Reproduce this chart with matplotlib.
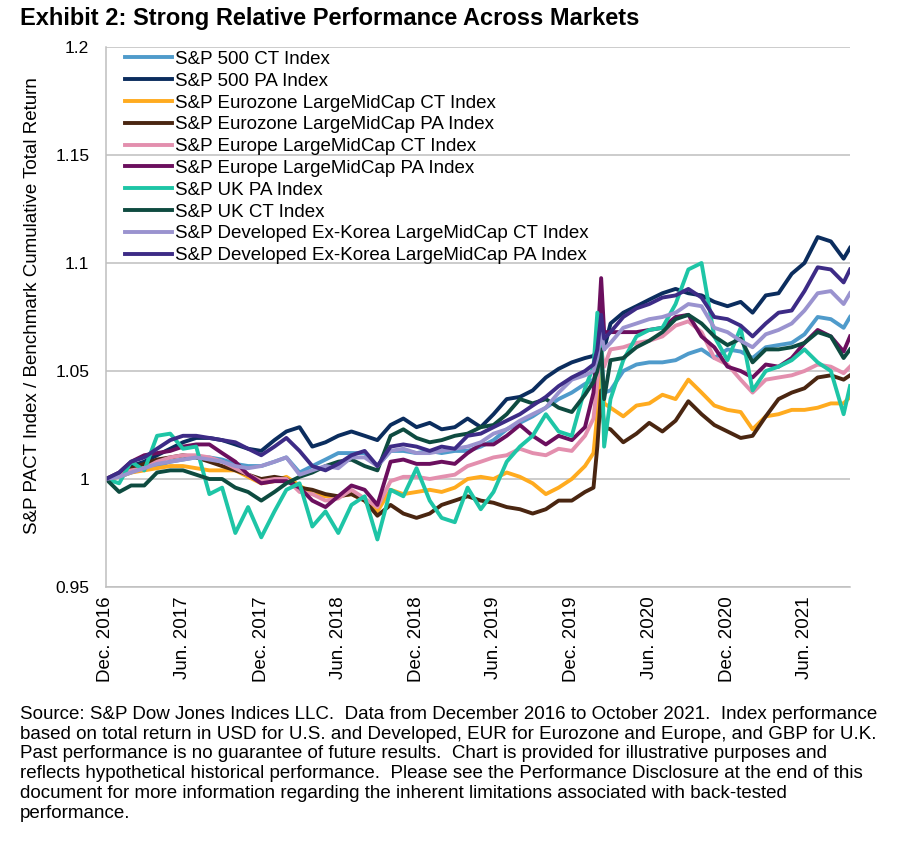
import matplotlib
matplotlib.use("Agg")
import matplotlib.pyplot as plt
import matplotlib.transforms as mtransforms
import pandas as pd

plt.rcParams['font.family'] = ['Liberation Sans', 'DejaVu Sans']

# month-end dates Dec 2016 .. Sep 2021, last reading mid Oct 2021,
# with a few extra points around the March 2020 jump
month_ends = list(pd.date_range("2016-12-31", "2021-09-30", freq="ME")) + [pd.Timestamp("2021-10-15")]
dates = (month_ends[:38] + [pd.Timestamp("2020-02-20"), month_ends[38],
         pd.Timestamp("2020-03-09"), pd.Timestamp("2020-03-16")] + month_ends[39:])

sp500_ct = [1.000, 1.001, 1.003, 1.005, 1.006, 1.008, 1.009, 1.010, 1.010, 1.009, 1.007, 1.006, 1.006,
            1.008, 1.010, 1.003, 1.006, 1.009, 1.012, 1.012, 1.012, 1.006, 1.013, 1.013, 1.012, 1.013,
            1.012, 1.013, 1.013, 1.015, 1.018, 1.023, 1.026, 1.029, 1.033, 1.037, 1.040, 1.044,
            1.046, 1.050, 1.058, 1.040,
            1.041, 1.050, 1.053, 1.054, 1.054, 1.055, 1.058, 1.060, 1.056, 1.060, 1.059, 1.056, 1.061,
            1.062, 1.063, 1.067, 1.075, 1.074, 1.070, 1.075]
sp500_pa = [1.000, 1.002, 1.006, 1.008, 1.011, 1.014, 1.017, 1.019, 1.019, 1.018, 1.016, 1.014, 1.013,
            1.018, 1.022, 1.024, 1.015, 1.017, 1.020, 1.022, 1.020, 1.018, 1.025, 1.028, 1.024, 1.026,
            1.023, 1.024, 1.028, 1.024, 1.030, 1.037, 1.038, 1.041, 1.047, 1.051, 1.054, 1.056,
            1.057, 1.060, 1.066, 1.060,
            1.072, 1.077, 1.080, 1.083, 1.086, 1.088, 1.086, 1.085, 1.082, 1.080, 1.082, 1.077, 1.085,
            1.086, 1.095, 1.100, 1.112, 1.110, 1.102, 1.107]
ez_ct = [1.000, 1.001, 1.003, 1.004, 1.005, 1.006, 1.006, 1.005, 1.004, 1.004, 1.004, 1.001, 0.998,
         0.999, 1.001, 0.997, 0.993, 0.992, 0.992, 0.993, 0.990, 0.985, 0.995, 0.993, 0.994, 0.995,
         0.994, 0.996, 1.000, 1.001, 1.000, 1.003, 1.001, 0.998, 0.993, 0.996, 1.000, 1.006,
         1.012, 1.030, 1.050, 1.035,
         1.033, 1.029, 1.034, 1.035, 1.039, 1.037, 1.046, 1.040, 1.034, 1.032, 1.031, 1.023, 1.029,
         1.030, 1.032, 1.032, 1.033, 1.035, 1.035, 1.038]
ez_pa = [1.000, 1.002, 1.005, 1.007, 1.009, 1.010, 1.011, 1.010, 1.008, 1.006, 1.004, 1.002, 1.000,
         1.001, 1.000, 0.996, 0.995, 0.993, 0.992, 0.993, 0.990, 0.983, 0.988, 0.984, 0.982, 0.984,
         0.988, 0.990, 0.992, 0.990, 0.989, 0.987, 0.986, 0.984, 0.986, 0.990, 0.990, 0.994,
         0.996, 1.015, 1.041, 1.024,
         1.023, 1.017, 1.021, 1.026, 1.022, 1.027, 1.036, 1.030, 1.025, 1.022, 1.019, 1.020, 1.029,
         1.037, 1.040, 1.042, 1.047, 1.048, 1.046, 1.048]
eu_ct = [1.000, 1.002, 1.004, 1.005, 1.008, 1.010, 1.011, 1.011, 1.010, 1.008, 1.005, 1.002, 0.999,
         1.000, 1.000, 0.994, 0.993, 0.990, 0.991, 0.995, 0.991, 0.987, 0.999, 1.001, 1.001, 1.000,
         1.001, 1.002, 1.006, 1.008, 1.010, 1.011, 1.014, 1.012, 1.011, 1.014, 1.013, 1.020,
         1.028, 1.045, 1.060, 1.052,
         1.060, 1.061, 1.063, 1.064, 1.066, 1.071, 1.073, 1.068, 1.056, 1.053, 1.046, 1.040, 1.046,
         1.047, 1.048, 1.050, 1.053, 1.052, 1.049, 1.052]
eu_pa = [1.000, 1.003, 1.008, 1.011, 1.012, 1.013, 1.015, 1.016, 1.016, 1.012, 1.008, 1.002, 0.998,
         0.999, 0.999, 0.996, 0.990, 0.987, 0.992, 0.997, 0.995, 0.988, 1.008, 1.009, 1.007, 1.007,
         1.008, 1.007, 1.012, 1.016, 1.016, 1.020, 1.025, 1.020, 1.016, 1.020, 1.018, 1.024,
         1.040, 1.062, 1.093, 1.068,
         1.068, 1.068, 1.068, 1.069, 1.070, 1.075, 1.076, 1.066, 1.061, 1.052, 1.050, 1.047, 1.053,
         1.052, 1.056, 1.063, 1.069, 1.066, 1.059, 1.066]
uk_pa = [1.000, 0.998, 1.008, 1.004, 1.020, 1.021, 1.014, 1.015, 0.993, 0.996, 0.975, 0.987, 0.973,
         0.985, 0.995, 0.998, 0.978, 0.985, 0.975, 0.988, 0.992, 0.972, 0.995, 0.992, 1.005, 0.990,
         0.982, 0.980, 0.996, 0.986, 0.994, 1.008, 1.015, 1.020, 1.030, 1.022, 1.020, 1.042,
         1.052, 1.077, 1.070, 1.015,
         1.037, 1.055, 1.066, 1.069, 1.070, 1.081, 1.097, 1.100, 1.066, 1.055, 1.070, 1.041, 1.050,
         1.052, 1.055, 1.060, 1.054, 1.050, 1.030, 1.043]
uk_ct = [1.000, 0.994, 0.997, 0.997, 1.003, 1.004, 1.004, 1.002, 1.000, 1.000, 0.996, 0.994, 0.990,
         0.994, 0.998, 1.001, 1.003, 1.006, 1.008, 1.009, 1.006, 1.004, 1.020, 1.023, 1.019, 1.017,
         1.018, 1.020, 1.021, 1.024, 1.025, 1.030, 1.037, 1.035, 1.037, 1.033, 1.031, 1.039,
         1.045, 1.050, 1.060, 1.037,
         1.055, 1.056, 1.061, 1.064, 1.068, 1.074, 1.076, 1.072, 1.066, 1.062, 1.065, 1.054, 1.060,
         1.060, 1.061, 1.063, 1.068, 1.066, 1.056, 1.060]
dev_ct = [1.000, 1.001, 1.003, 1.005, 1.007, 1.008, 1.009, 1.010, 1.009, 1.008, 1.006, 1.005, 1.006,
          1.008, 1.010, 1.002, 1.004, 1.006, 1.005, 1.010, 1.010, 1.006, 1.013, 1.014, 1.012, 1.012,
          1.013, 1.014, 1.015, 1.017, 1.021, 1.023, 1.027, 1.030, 1.033, 1.040, 1.046, 1.048,
          1.050, 1.056, 1.068, 1.060,
          1.063, 1.070, 1.072, 1.074, 1.075, 1.077, 1.081, 1.080, 1.070, 1.068, 1.064, 1.061, 1.067,
          1.069, 1.072, 1.078, 1.086, 1.087, 1.081, 1.086]
dev_pa = [1.000, 1.003, 1.008, 1.010, 1.014, 1.018, 1.020, 1.020, 1.019, 1.018, 1.017, 1.014, 1.011,
          1.015, 1.019, 1.013, 1.006, 1.004, 1.007, 1.011, 1.013, 1.006, 1.015, 1.016, 1.015, 1.013,
          1.015, 1.014, 1.020, 1.021, 1.024, 1.027, 1.030, 1.034, 1.038, 1.043, 1.047, 1.050,
          1.053, 1.060, 1.076, 1.065,
          1.068, 1.075, 1.079, 1.081, 1.084, 1.085, 1.088, 1.084, 1.075, 1.074, 1.071, 1.066, 1.072,
          1.077, 1.078, 1.087, 1.098, 1.097, 1.091, 1.097]

labels = ["S&P 500 CT Index", "S&P 500 PA Index", "S&P Eurozone LargeMidCap CT Index",
          "S&P Eurozone LargeMidCap PA Index", "S&P Europe LargeMidCap CT Index",
          "S&P Europe LargeMidCap PA Index", "S&P UK PA Index", "S&P UK CT Index",
          "S&P Developed Ex-Korea LargeMidCap CT Index", "S&P Developed Ex-Korea LargeMidCap PA Index"]
series = [sp500_ct, sp500_pa, ez_ct, ez_pa, eu_ct, eu_pa, uk_pa, uk_ct, dev_ct, dev_pa]
colors = ["#4F9BCB", "#0B2D5E", "#FFAB1F", "#4A2611", "#E38FAE",
          "#6B0F5E", "#1EC5A6", "#0E4B40", "#9A93CF", "#3D2B86"]

tick_dates = [pd.Timestamp(f"{y}-{m}-01") + pd.offsets.MonthEnd(0)
              for y, m in [(2016, 12), (2017, 6), (2017, 12), (2018, 6), (2018, 12),
                           (2019, 6), (2019, 12), (2020, 6), (2020, 12), (2021, 6)]]
tick_labels = [d.strftime("%b. %Y") for d in tick_dates]

fig = plt.figure(figsize=(9.12, 8.41), dpi=100)
ax = fig.add_axes([106 / 912, 1 - 587 / 841, (850 - 106) / 912, (587 - 47) / 841])

for vals, lab, col in zip(series, labels, colors):
    ax.plot(dates, vals, color=col, lw=2.8, label=lab, solid_joinstyle='round')

ax.set_ylim(0.95, 1.2)
ax.set_yticks([0.95, 1.0, 1.05, 1.1, 1.15, 1.2])
ax.set_yticklabels(["0.95", "1", "1.05", "1.1", "1.15", "1.2"], fontsize=12.5)
ax.yaxis.grid(True, color="#BFBFBF", lw=1.1)
ax.set_axisbelow(True)
ax.set_xlim(dates[0], dates[-1])
ax.set_xticks(tick_dates)
ax.set_xticklabels(tick_labels, rotation=90, fontsize=13.5, va='top', ha='center')
# nudge the rotated labels a little to the right, as in the original
shift = mtransforms.ScaledTranslation(4 / 100, 0, fig.dpi_scale_trans)
for lbl in ax.get_xticklabels():
    lbl.set_transform(lbl.get_transform() + shift)
ax.tick_params(length=0)
ax.tick_params(axis='y', pad=12)
ax.tick_params(axis='x', pad=7)
for s in ['top', 'right']:
    ax.spines[s].set_visible(False)
for s in ['left', 'bottom']:
    ax.spines[s].set_color("#BFBFBF")
    ax.spines[s].set_linewidth(1.1)

ax.legend(loc='upper left', bbox_to_anchor=(0.02, 1.0), frameon=False, fontsize=13.5,
          handlelength=2.5, handletextpad=0.2, labelspacing=0.25, borderpad=0.2, borderaxespad=0)

fig.text(33 / 912, 1 - 306 / 841, "S&P PACT Index / Benchmark Cumulative Total Return",
         rotation=90, ha='center', va='center', fontsize=13.5)
fig.text(20 / 912, 1 - 18 / 841, "Exhibit 2: Strong Relative Performance Across Markets",
         fontsize=17, fontweight='bold', ha='left', va='center')

note = ("Source: S&P Dow Jones Indices LLC.  Data from December 2016 to October 2021.  Index performance\n"
        "based on total return in USD for U.S. and Developed, EUR for Eurozone and Europe, and GBP for U.K.\n"
        "Past performance is no guarantee of future results.  Chart is provided for illustrative purposes and\n"
        "reflects hypothetical historical performance.  Please see the Performance Disclosure at the end of this\n"
        "document for more information regarding the inherent limitations associated with back-tested\n"
        "performance.")
fig.text(20 / 912, 1 - 706 / 841, note, fontsize=13.5, ha='left', va='top', linespacing=1.21)

fig.savefig("out.png", dpi=100)
